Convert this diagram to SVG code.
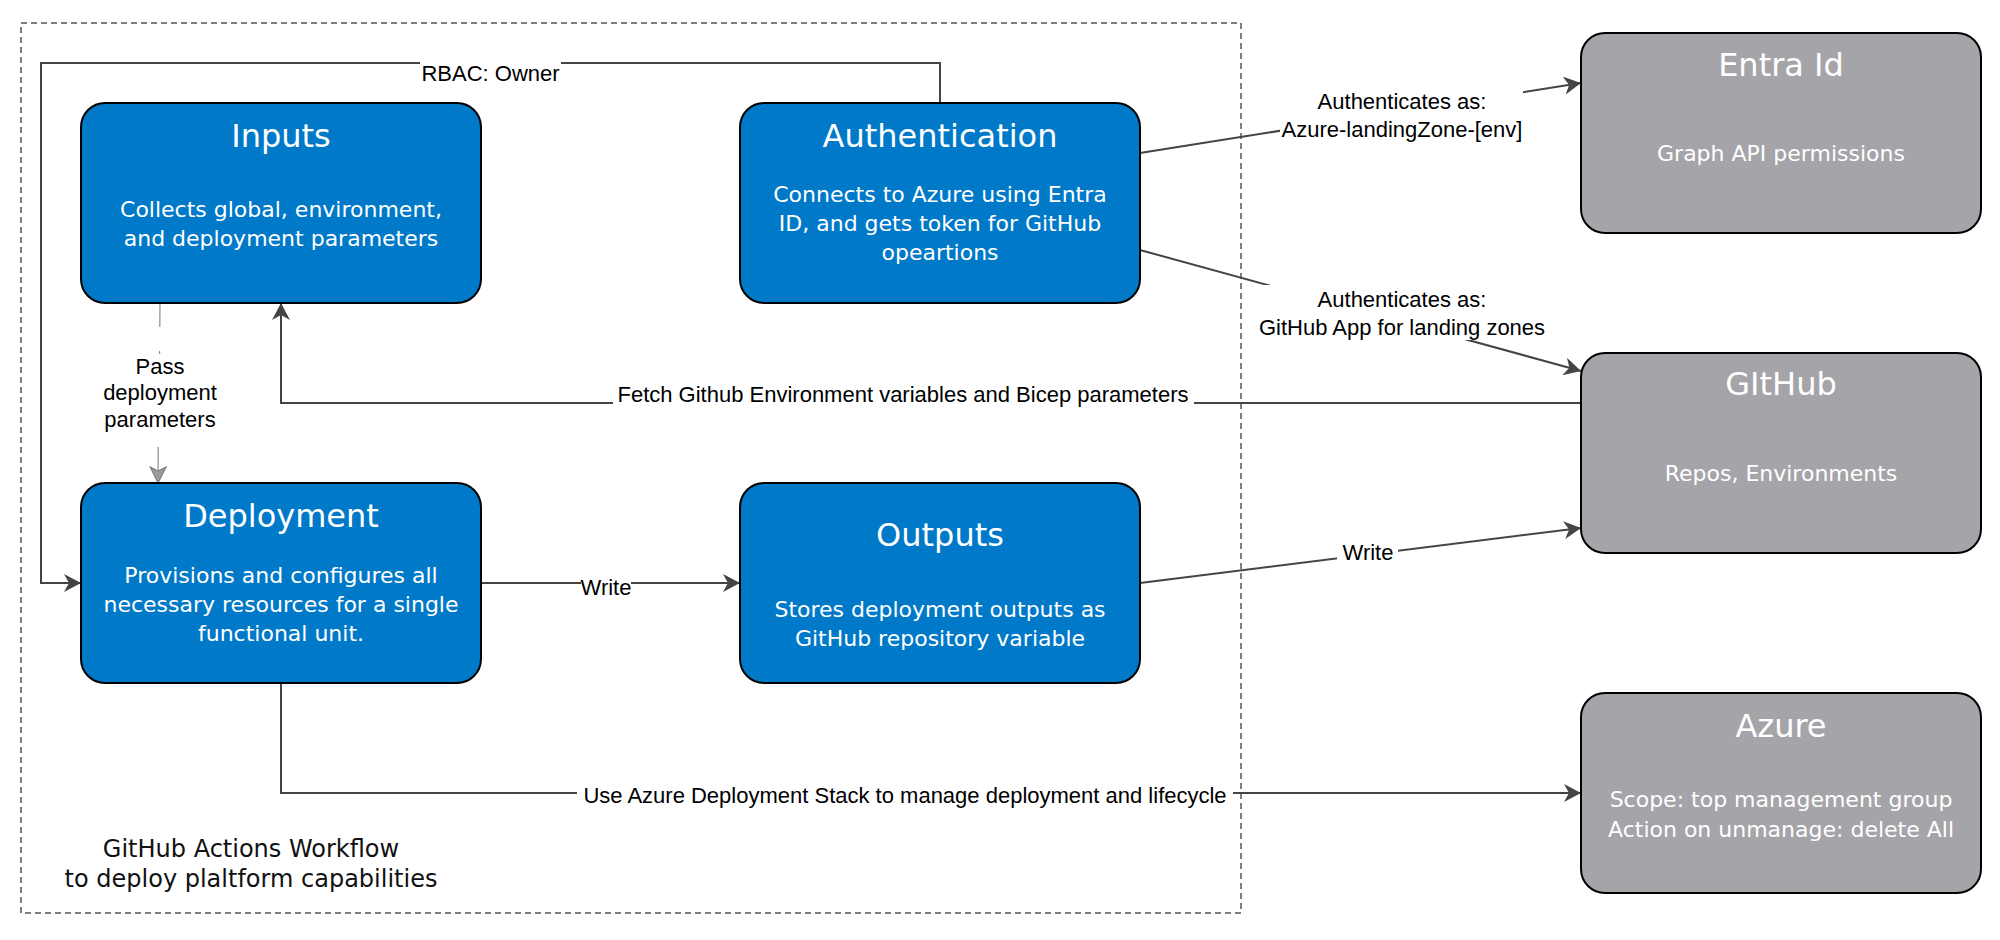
<svg xmlns="http://www.w3.org/2000/svg" width="2000" height="940" viewBox="0 0 2000 940">
<defs>
<style>
.box-blue{fill:#0079c9;stroke:#000;stroke-width:2}
.box-gray{fill:#a5a4a9;stroke:#000;stroke-width:2}
.title{font-family:"DejaVu Sans",Verdana,sans-serif;font-size:32px;fill:#fff;text-anchor:middle}
.body{font-family:"DejaVu Sans",Verdana,sans-serif;font-size:22px;fill:#fff;text-anchor:middle}
.cont{font-family:"DejaVu Sans",Verdana,sans-serif;font-size:24px;fill:#111;text-anchor:middle}
.edge{fill:none;stroke:#444;stroke-width:2}
.edge-light{fill:none;stroke:#8c8c8c;stroke-width:1.2}
.lbl{font-family:"Liberation Sans",Arial,sans-serif;font-size:22px;fill:#000;text-anchor:middle}
.lblbg{fill:#fff}
</style>
<marker id="arr" markerUnits="userSpaceOnUse" markerWidth="18" markerHeight="18" viewBox="0 0 18 18" refX="17" refY="9" orient="auto">
<path d="M0,0 L17,9 L0,18 L5,9 Z" fill="#444"/>
</marker>
<marker id="arrLight" markerUnits="userSpaceOnUse" markerWidth="18" markerHeight="18" viewBox="0 0 18 18" refX="17" refY="9" orient="auto">
<path d="M1,1 L17,9 L1,17 L5,9 Z" fill="#9a9a9a" stroke="#777" stroke-width="1"/>
</marker>
</defs>
<rect width="2000" height="940" fill="#fff"/>

<g id="container">
<rect x="21" y="23" width="1220" height="890" fill="none" stroke="#808080" stroke-width="2" stroke-dasharray="6 4"/>
<text class="cont" x="251" y="857">GitHub Actions Workflow</text>
<text class="cont" x="251" y="887">to deploy plaltform capabilities</text>
</g>

<g id="connectors">
<path class="edge" d="M940,103 V63 H41 V583 H81" marker-end="url(#arr)"/>
<rect class="lblbg" x="420" y="57" width="141" height="30"/>
<text class="lbl" x="490.5" y="81">RBAC: Owner</text>

<path class="edge-light" d="M160,303 L159.8,327 M159.6,351 L159.6,354 M158.3,447 L158,483" marker-end="url(#arrLight)"/>
<text class="lbl" x="160" y="374">Pass</text>
<text class="lbl" x="160" y="400">deployment</text>
<text class="lbl" x="160" y="427">parameters</text>

<path class="edge" d="M1581,403 H281 V303" marker-end="url(#arr)"/>
<rect class="lblbg" x="613" y="384" width="581" height="26"/>
<text class="lbl" x="903" y="402">Fetch Github Environment variables and Bicep parameters</text>

<path class="edge" d="M1140,153 L1581,83" marker-end="url(#arr)"/>
<rect class="lblbg" x="1280" y="90" width="243" height="53"/>
<text class="lbl" x="1402" y="109">Authenticates as:</text>
<text class="lbl" x="1402" y="137">Azure-landingZone-[env]</text>

<path class="edge" d="M1140,250 L1581,371" marker-end="url(#arr)"/>
<rect class="lblbg" x="1258" y="285" width="288" height="55"/>
<text class="lbl" x="1402" y="307">Authenticates as:</text>
<text class="lbl" x="1402" y="335">GitHub App for landing zones</text>

<path class="edge" d="M481,583 H740" marker-end="url(#arr)"/>
<rect class="lblbg" x="581" y="577" width="50" height="22"/>
<text class="lbl" x="606" y="595">Write</text>

<path class="edge" d="M1140,583 L1581,528" marker-end="url(#arr)"/>
<rect class="lblbg" x="1337" y="541" width="61" height="25"/>
<text class="lbl" x="1368" y="560">Write</text>

<path class="edge" d="M281,683 V793 H1581" marker-end="url(#arr)"/>
<rect class="lblbg" x="577" y="783" width="656" height="26"/>
<text class="lbl" x="905" y="803">Use Azure Deployment Stack to manage deployment and lifecycle</text>
</g>

<g id="inputs">
<rect class="box-blue" x="81" y="103" width="400" height="200" rx="24" ry="24"/>
<text class="title" x="281" y="147">Inputs</text>
<text class="body" x="281" y="217">Collects global, environment,</text>
<text class="body" x="281" y="246">and deployment parameters</text>
</g>

<g id="authentication">
<rect class="box-blue" x="740" y="103" width="400" height="200" rx="24" ry="24"/>
<text class="title" x="940" y="147">Authentication</text>
<text class="body" x="940" y="202">Connects to Azure using Entra</text>
<text class="body" x="940" y="231">ID, and gets token for GitHub</text>
<text class="body" x="940" y="260">opeartions</text>
</g>

<g id="deployment">
<rect class="box-blue" x="81" y="483" width="400" height="200" rx="24" ry="24"/>
<text class="title" x="281" y="527">Deployment</text>
<text class="body" x="281" y="583">Provisions and configures all</text>
<text class="body" x="281" y="612">necessary resources for a single</text>
<text class="body" x="281" y="641">functional unit.</text>
</g>

<g id="outputs">
<rect class="box-blue" x="740" y="483" width="400" height="200" rx="24" ry="24"/>
<text class="title" x="940" y="546">Outputs</text>
<text class="body" x="940" y="617">Stores deployment outputs as</text>
<text class="body" x="940" y="646">GitHub repository variable</text>
</g>

<g id="entra-id">
<rect class="box-gray" x="1581" y="33" width="400" height="200" rx="24" ry="24"/>
<text class="title" x="1781" y="76">Entra Id</text>
<text class="body" x="1781" y="161">Graph API permissions</text>
</g>

<g id="github">
<rect class="box-gray" x="1581" y="353" width="400" height="200" rx="24" ry="24"/>
<text class="title" x="1781" y="395">GItHub</text>
<text class="body" x="1781" y="481">Repos, Environments</text>
</g>

<g id="azure">
<rect class="box-gray" x="1581" y="693" width="400" height="200" rx="24" ry="24"/>
<text class="title" x="1781" y="737">Azure</text>
<text class="body" x="1781" y="807">Scope: top management group</text>
<text class="body" x="1781" y="837">Action on unmanage: delete All</text>
</g>
</svg>
